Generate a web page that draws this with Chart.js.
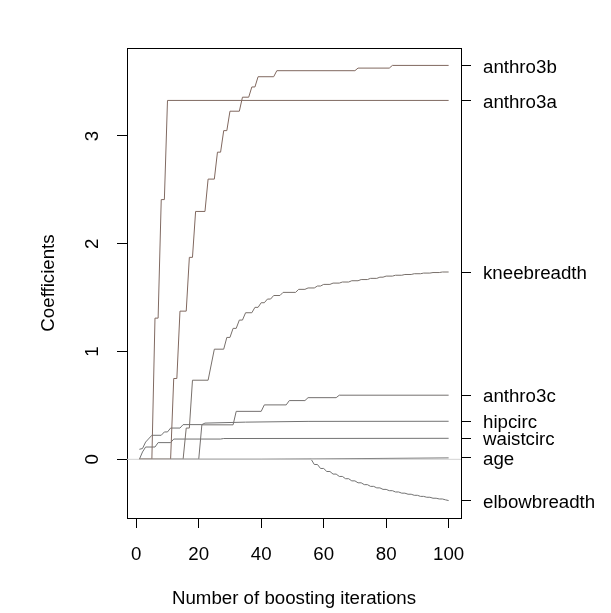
<!DOCTYPE html>
<html>
<head>
<meta charset="utf-8">
<script src="https://cdn.jsdelivr.net/npm/chart.js@4/dist/chart.umd.min.js"></script>
<style>
html,body{margin:0;padding:0;background:#ffffff;}
#wrap{width:611px;height:613px;}
</style>
</head>
<body>
<div id="wrap"><canvas id="c" width="611" height="613"></canvas></div>
<script>
// ---- Data: coefficient paths (vertices: boosting iteration, coefficient) ----
const anthro3bIter = [1,11,12,13,14,16,17,18,19,22,23,25,26,27,28,29,30,33,34,36,37,38,39,44,45,70,71,81,82,100];
const anthro3bCoef = [0,0,0.75,0.75,1.375,1.375,1.874,1.874,2.30,2.30,2.60,2.60,2.85,2.85,3.05,3.05,3.23,3.23,3.36,3.36,3.455,3.455,3.55,3.55,3.606,3.606,3.63,3.63,3.655,3.655];

const anthro3aIter = [1,5,6,7,8,9,10,100];
const anthro3aCoef = [0,0,1.31,1.31,2.41,2.41,3.33,3.33];

const kneebreadthIter = [1,15,16,17,18,23,25,28,29,30,31,32,33,34,35,37,38,39,40,41,42,43,44,46,47,51,52,54,55,57,58,59,60,62,63,65,66,68,69,71,72,74,75,77,78,79,80,82,83,85,86,88,89,91,92,94,95,97,98,100];
const kneebreadthCoef = [0,0,0.29,0.29,0.734,0.734,1.022,1.022,1.131,1.131,1.215,1.215,1.292,1.292,1.36,1.36,1.41,1.41,1.453,1.453,1.487,1.487,1.52,1.52,1.549,1.549,1.577,1.577,1.59,1.59,1.608,1.608,1.623,1.623,1.635,1.635,1.645,1.645,1.657,1.657,1.668,1.668,1.679,1.679,1.69,1.69,1.70,1.70,1.708,1.708,1.715,1.715,1.722,1.722,1.728,1.728,1.733,1.733,1.738,1.738];

const anthro3cIter = [1,20,21,31,32,40,41,48,49,54,55,64,65,100];
const anthro3cCoef = [0,0,0.32,0.32,0.445,0.445,0.505,0.505,0.545,0.545,0.572,0.572,0.595,0.595];

const hipcircIter = [1,2,3,5,8,9,10,11,14,15,21,22,35,55,100];
const hipcircCoef = [0.093,0.1,0.16,0.223,0.223,0.254,0.254,0.29,0.29,0.322,0.322,0.336,0.345,0.352,0.353];

const waistcircIter = [1,2,3,6,7,11,12,27,28,100];
const waistcircCoef = [0,0.068,0.114,0.114,0.155,0.155,0.188,0.188,0.193,0.195];

const ageIter = [1,40,100];
const ageCoef = [0,0,0.013];

const elbowbreadthIter = [1,56,57,58,59,60,61,62,63,64,65,66,67,68,69,70,71,72,73,74,75,76,77,78,79,80,81,82,83,84,85,86,87,88,89,90,91,92,93,94,95,96,97,98,99,100];
const elbowbreadthCoef = [0,0,-0.048,-0.048,-0.085,-0.085,-0.113,-0.113,-0.137,-0.137,-0.159,-0.159,-0.18,-0.18,-0.20,-0.20,-0.218,-0.218,-0.235,-0.235,-0.251,-0.251,-0.265,-0.265,-0.279,-0.279,-0.291,-0.291,-0.303,-0.303,-0.314,-0.314,-0.324,-0.324,-0.334,-0.334,-0.344,-0.344,-0.352,-0.352,-0.361,-0.361,-0.368,-0.368,-0.376,-0.383];

const seriesNames  = ["anthro3b","anthro3a","kneebreadth","anthro3c","hipcirc","waistcirc","age","elbowbreadth"];
const seriesIters  = [anthro3bIter,anthro3aIter,kneebreadthIter,anthro3cIter,hipcircIter,waistcircIter,ageIter,elbowbreadthIter];
const seriesCoefs  = [anthro3bCoef,anthro3aCoef,kneebreadthCoef,anthro3cCoef,hipcircCoef,waistcircCoef,ageCoef,elbowbreadthCoef];
const seriesColors = ["#80685f","#806a62","#78706b","#74706f","#727272","#727272","#727272","#727272"];

const xTickValues = [0,20,40,60,80,100];
const yTickValues = [0,1,2,3];
const xLabel = "Number of boosting iterations";
const yLabel = "Coefficients";

// ---- R-style axis limits (data range extended by 4%) ----
const allIters = seriesIters.flat();
const allCoefs = seriesCoefs.flat();
const xMinD = Math.min(...allIters), xMaxD = Math.max(...allIters);
const yMinD = Math.min(...allCoefs), yMaxD = Math.max(...allCoefs);
const xLo = xMinD - 0.04*(xMaxD-xMinD), xHi = xMaxD + 0.04*(xMaxD-xMinD);
const yLo = yMinD - 0.04*(yMaxD-yMinD), yHi = yMaxD + 0.04*(yMaxD-yMinD);
const finalCoefs = seriesCoefs.map(a => a[a.length-1]);

const FONT = {family: "'Liberation Sans', Arial, sans-serif", size: 18.7, weight: 'normal'};

const datasets = [{
  label: 'zero',
  data: [{x:xLo,y:0},{x:xHi,y:0}],
  borderColor: '#d3d3d3', borderWidth: 1, pointRadius: 0
}];
seriesNames.forEach((n,k) => {
  datasets.push({
    label: n,
    data: seriesIters[k].map((it,j) => ({x: it, y: seriesCoefs[k][j]})),
    borderColor: seriesColors[k], borderWidth: 1, pointRadius: 0, tension: 0, fill: false
  });
});

const tickGrid = {drawOnChartArea:false, drawTicks:true, tickLength:10, color:'#000', lineWidth:1};
const blackBorder = {display:true, color:'#000', width:1};

new Chart(document.getElementById('c'), {
  type: 'line',
  data: {datasets},
  options: {
    responsive: false, animation: false,
    layout: {padding: 0},
    plugins: {legend:{display:false}, tooltip:{enabled:false}},
    scales: {
      x: {
        type:'linear', position:'bottom', min:xLo, max:xHi, bounds:'data',
        afterBuildTicks: s => { s.ticks = xTickValues.map(v => ({value:v})); },
        ticks: {color:'#000', font:FONT, padding:16, maxRotation:0, minRotation:0, autoSkip:false},
        grid: tickGrid, border: blackBorder,
        title: {display:true, text:xLabel, color:'#000', font:FONT, padding:{top:0, bottom:2.8}},
        afterFit: s => { s.height = 95; }
      },
      x2: {
        type:'linear', position:'top', min:xLo, max:xHi, bounds:'data',
        ticks: {display:false}, grid: {display:false, drawTicks:false}, border: blackBorder,
        afterFit: s => { s.height = 48; }
      },
      y: {
        type:'linear', position:'left', min:yLo, max:yHi, bounds:'data',
        afterBuildTicks: s => { s.ticks = yTickValues.map(v => ({value:v})); },
        ticks: {color:'#000', font:FONT, padding:18.8, minRotation:90, maxRotation:90, crossAlign:'center', autoSkip:false},
        grid: tickGrid, border: blackBorder,
        title: {display:true, text:yLabel, color:'#000', font:FONT, padding:{top:37.8, bottom:0}},
        afterFit: s => { s.width = 127; }
      },
      y2: {
        type:'linear', position:'right', min:yLo, max:yHi, bounds:'data',
        afterBuildTicks: s => { s.ticks = finalCoefs.map(v => ({value:v})); },
        ticks: {color:'#000', font:FONT, padding:12, labelOffset:2, autoSkip:false, callback: (v,i) => seriesNames[i]},
        grid: tickGrid, border: blackBorder,
        afterFit: s => { s.width = 150; }
      }
    }
  }
});
</script>
</body>
</html>
